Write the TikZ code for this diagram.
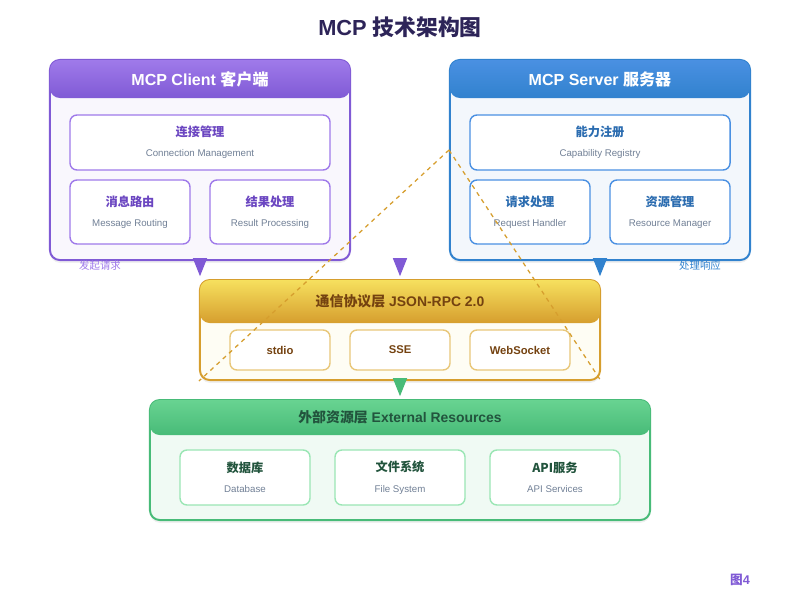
\documentclass[tikz,border=0pt]{standalone}
\usepackage{fontspec}
\setmainfont{Liberation Sans}
\newfontfamily\cjk{Noto Sans CJK SC}
\usepackage{tikz}
\usetikzlibrary{arrows.meta,positioning,shadows}
\definecolor{mcpurple}{HTML}{805AD5}
\definecolor{mcplilac}{HTML}{9F7AEA}
\definecolor{mcpdeep}{HTML}{6B46C1}
\definecolor{mcpblue}{HTML}{3182CE}
\definecolor{mcpsky}{HTML}{4A90E2}
\definecolor{mcpnavy}{HTML}{2B6CB0}
\definecolor{mcpgold}{HTML}{D69E2E}
\definecolor{mcpyellow}{HTML}{F6E05E}
\definecolor{mcpsand}{HTML}{E8C77A}
\definecolor{mcpbrown}{HTML}{744210}
\definecolor{mcpgreen}{HTML}{48BB78}
\definecolor{mcpmint}{HTML}{68D391}
\definecolor{mcppale}{HTML}{9AE6B4}
\definecolor{mcpforest}{HTML}{22543D}
\definecolor{mcpgrey}{HTML}{718096}
\definecolor{mcpink}{HTML}{2D2458}
\newcommand{\subfont}{\fontsize{6.9}{8}\selectfont\color{mcpgrey}}
\newcommand{\boxtext}[3]{{\color{#1}\fontsize{8.7}{9.5}\selectfont\cjk\bfseries #2}\\[2.5pt]{\subfont #3}}

\begin{document}
\begin{tikzpicture}[x=0.025cm, y=-0.025cm,
    layer/.style={rectangle, rounded corners=7pt, line width=1.4pt,
      drop shadow={opacity=0.12, shadow xshift=0pt, shadow yshift=-2pt}},
    header/.style={rectangle, rounded corners=7pt, text=white,
      font=\fontsize{11.4}{13}\selectfont\bfseries},
    lowheader/.style={header, font=\fontsize{9.9}{12}\selectfont\bfseries},
    inbox/.style={rectangle, rounded corners=5pt, fill=white, line width=1pt, align=center},
    flow/.style={-{Triangle[length=0.45cm, width=0.36cm]}, line width=0pt, shorten >=2pt},
    dashline/.style={mcpgold, line width=0.9pt, dash pattern=on 3pt off 3pt}
  ]
    \useasboundingbox (0,0) rectangle (800,600);

    % Title
    \node[font=\fontsize{15.5}{18}\selectfont\bfseries, text=mcpink] (title) at (400,27)
      {MCP {\cjk 技术架构图}};

    % Client
    \node[layer, draw=mcpurple, fill=mcpurple!5, minimum width=7.5cm, minimum height=5cm]
      (client) at (200,160) {};
    \node[header, top color=mcplilac, bottom color=mcpurple, minimum width=7.5cm,
      minimum height=0.95cm] (clienthd) at (200,79) {MCP Client {\cjk 客户端}};
    \node[inbox, draw=mcplilac, minimum width=6.5cm, minimum height=1.375cm] (conn) at (200,142.5)
      {\boxtext{mcpdeep}{连接管理}{Connection Management}};
    \node[inbox, draw=mcplilac, minimum width=3cm, minimum height=1.6cm] (route) at (130,212)
      {\boxtext{mcpdeep}{消息路由}{Message Routing}};
    \node[inbox, draw=mcplilac, minimum width=3cm, minimum height=1.6cm] (result) at (270,212)
      {\boxtext{mcpdeep}{结果处理}{Result Processing}};

    % Server
    \node[layer, draw=mcpblue, fill=mcpblue!6, minimum width=7.5cm, minimum height=5cm]
      (server) at (600,160) {};
    \node[header, top color=mcpsky, bottom color=mcpblue, minimum width=7.5cm,
      minimum height=0.95cm] (serverhd) at (600,79) {MCP Server {\cjk 服务器}};
    \node[inbox, draw=mcpsky, minimum width=6.5cm, minimum height=1.375cm] (registry) at (600,142.5)
      {\boxtext{mcpnavy}{能力注册}{Capability Registry}};
    \node[inbox, draw=mcpsky, minimum width=3cm, minimum height=1.6cm] (handler) at (530,212)
      {\boxtext{mcpnavy}{请求处理}{Request Handler}};
    \node[inbox, draw=mcpsky, minimum width=3cm, minimum height=1.6cm] (manager) at (670,212)
      {\boxtext{mcpnavy}{资源管理}{Resource Manager}};

    % Protocol layer
    \node[layer, draw=mcpgold, fill=mcpyellow!7, minimum width=10cm, minimum height=2.5cm]
      (proto) at (400,330) {};
    \node[lowheader, top color=mcpyellow, bottom color=mcpgold, text=mcpbrown, minimum width=10cm,
      minimum height=1.075cm] (protohd) at (400,301.5) {{\cjk 通信协议层} JSON-RPC 2.0};
    \node[inbox, draw=mcpsand, minimum width=2.5cm, minimum height=1cm, text=mcpbrown,
      font=\fontsize{8}{9}\selectfont\bfseries] (stdio) at (280,350) {stdio};
    \node[inbox, draw=mcpsand, minimum width=2.5cm, minimum height=1cm, text=mcpbrown,
      font=\fontsize{8}{9}\selectfont\bfseries] (sse) at (400,350) {SSE};
    \node[inbox, draw=mcpsand, minimum width=2.5cm, minimum height=1cm, text=mcpbrown,
      font=\fontsize{8}{9}\selectfont\bfseries] (ws) at (520,350) {WebSocket};

    % External resources
    \node[layer, draw=mcpgreen, fill=mcpgreen!8, minimum width=12.5cm, minimum height=3cm]
      (ext) at (400,460) {};
    \node[lowheader, top color=mcpmint, bottom color=mcpgreen, text=mcpforest, minimum width=12.5cm,
      minimum height=0.875cm] (exthd) at (400,417.5) {{\cjk 外部资源层} External Resources};
    \node[inbox, draw=mcppale, minimum width=3.25cm, minimum height=1.375cm] (db) at (245,477.5)
      {\boxtext{mcpforest}{数据库}{Database}};
    \node[inbox, draw=mcppale, minimum width=3.25cm, minimum height=1.375cm] (fs) at (400,477.5)
      {\boxtext{mcpforest}{文件系统}{File System}};
    \node[inbox, draw=mcppale, minimum width=3.25cm, minimum height=1.375cm] (api) at (555,477.5)
      {\boxtext{mcpforest}{API{\cjk 服务}}{API Services}};

    % Flows
    \draw[flow, mcpurple] (client.south) -- (proto.north -| client.south);
    \draw[flow, mcpurple] (client.south -| proto.north) -- (proto.north);
    \draw[flow, mcpblue] (server.south) -- (proto.north -| server.south);
    \draw[flow, mcpgreen] (proto.south) -- (ext.north);
    \node[text=mcplilac, font=\fontsize{7.4}{8}\selectfont\cjk] (req) at (100,266) {发起请求};
    \node[text=mcpblue, font=\fontsize{7.4}{8}\selectfont\cjk] (resp) at (700,266) {处理响应};

    % Dashed guides
    \coordinate (apex) at (449,150);
    \draw[dashline] (apex) -- (proto.south west);
    \draw[dashline] (apex) -- (proto.south east);

    \node[text=mcpurple, font=\fontsize{9}{10}\selectfont\bfseries] (fig) at (740,580) {{\cjk 图}4};
  \end{tikzpicture}
\end{document}
